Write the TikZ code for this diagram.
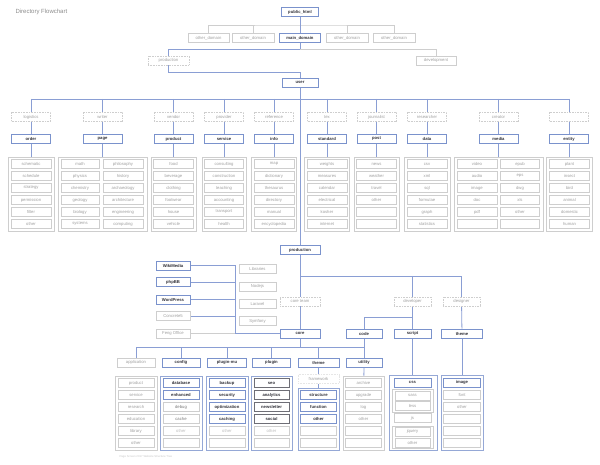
\documentclass[tikz,border=0pt]{standalone}
\usepackage{fontspec}
\setsansfont{Liberation Sans}
\usetikzlibrary{calc}
\pgfdeclarelayer{bg}
\pgfsetlayers{bg,main}
\definecolor{bl}{RGB}{122,146,204}
\definecolor{bline}{RGB}{138,158,212}
\definecolor{gb}{RGB}{206,206,206}
\definecolor{gt}{RGB}{160,160,160}
\definecolor{dk}{RGB}{50,50,58}
\definecolor{dkb}{RGB}{110,110,118}
\definecolor{ttl}{RGB}{140,140,140}
% column of equally spaced item boxes: prefix, x, base y, style, labels
\newcommand{\itemcol}[5]{%
  \foreach \t [count=\i] in {#5} \node[#4] (#1-\i) at (#2,{#3+12*\i}) {\t};}
\begin{document}
\begin{tikzpicture}[x=1pt,y=-1pt,
  lbl/.style={font=\sffamily\fontsize{4.2}{4.6}\selectfont},
  bx/.style={lbl,rectangle,inner sep=0,fill=white,minimum height=9,minimum width=#1},
  mainbx/.style={bx=#1,draw=bl,line width=0.8pt,text=dk},
  grybx/.style={bx=#1,draw=gb,line width=0.6pt,text=gt},
  darkbx/.style={bx=#1,draw=dkb,line width=0.7pt,text=dk},
  dashbx/.style={bx=#1,draw=gb,dash pattern=on 0.8pt off 0.8pt,line width=0.6pt,text=gt},
  grp/.style={rectangle,inner sep=0,fill=white,draw=gb,line width=0.8pt,minimum width=#1},
  bgrp/.style={grp=#1,draw=bl!80},
  link/.style={draw=bline,line width=0.8pt},
  glink/.style={draw=gb,line width=0.7pt}]
\useasboundingbox (0,0) rectangle (600,465);
\begin{pgfonlayer}{bg}
\fill[white] (0,0) rectangle (600,465);
\end{pgfonlayer}

\node[anchor=west,text=ttl,font=\sffamily\fontsize{6}{7}\selectfont] (title) at (12,12) {Directory Flowchart};

% ---------- domains ----------
\node[mainbx=37] (pub) at (300,12) {\bfseries public\_html};
\node[grybx=41] (od1) at (208.5,38) {other\_domain};
\node[grybx=42] (od2) at (253,38) {other\_domain};
\node[mainbx=41] (maind) at (300,38) {\bfseries main\_domain};
\node[grybx=42] (od3) at (347,38) {other\_domain};
\node[grybx=42] (od4) at (394,38) {other\_domain};
\node[dashbx=41] (prodr) at (168.5,60.5) {production};
\node[grybx=40] (dev) at (436,60.5) {development};
\node[mainbx=36] (user) at (300,82.5) {\bfseries user};

\coordinate (j1) at (300,25);
\coordinate (j2) at (300,49.5);
\coordinate (j3) at (300,72);
\coordinate (j4) at (300,99);

% ---------- user columns ----------
\foreach \n/\x/\r/\m in {c1/31/logistics/order, c2/102.5/writer/page, c3/173.5/vendor/product,
  c4/224/provider/service, c5/274/reference/info, c6/327/tex/standard, c7/376.5/journalist/post,
  c8/427/researcher/data, c9/498.5/creator/media, c10/569/{}/entity}{
  \node[dashbx=39] (\n-r) at (\x,117) {\r};
  \node[mainbx=39] (\n-m) at (\x,139) {\bfseries\m};
}
\node[grp=46,minimum height=74] (c1-g) at (31,194) {};
\node[grp=89,minimum height=74] (c2-g) at (102.5,194) {};
\node[grp=45,minimum height=74] (c3-g) at (173.5,194) {};
\node[grp=44,minimum height=74] (c4-g) at (224,194) {};
\node[grp=45,minimum height=74] (c5-g) at (274,194) {};
\node[grp=45,minimum height=74] (c6-g) at (327,194) {};
\node[grp=45,minimum height=74] (c7-g) at (376.5,194) {};
\node[grp=46,minimum height=74] (c8-g) at (427,194) {};
\node[grp=89,minimum height=74] (c9-g) at (498.5,194) {};
\node[grp=46,minimum height=74] (c10-g) at (569.5,194) {};

\itemcol{ord}{31}{152}{grybx=40}{schematic,schedule,strategy,permission,filter,other}
\itemcol{pgl}{80}{152}{grybx=38}{math,physics,chemistry,geology,biology,systems}
\itemcol{pgr}{123}{152}{grybx=40}{philosophy,history,archaeology,architecture,engineering,computing}
\itemcol{prd}{173.5}{152}{grybx=40}{food,beverage,clothing,footwear,house,vehicle}
\itemcol{srv}{224}{152}{grybx=39}{consulting,construction,teaching,accounting,transport,health}
\itemcol{inf}{274}{152}{grybx=40}{map,dictionary,thesaurus,directory,manual,encyclopedia}
\itemcol{std}{327}{152}{grybx=40}{weights,measures,calendar,electrical,kosher,internet}
\itemcol{pst}{376.5}{152}{grybx=40}{news,weather,travel,other,{},{}}
\itemcol{dat}{427}{152}{grybx=40}{csv,xml,sql,formulae,graph,statistics}
\itemcol{mdl}{477}{152}{grybx=40}{video,audio,image,doc,pdf,{}}
\itemcol{mdr}{520}{152}{grybx=39}{epub,eps,dwg,xls,other,{}}
\itemcol{ent}{569.5}{152}{grybx=40}{plant,insect,bird,animal,domestic,human}

% ---------- production ----------
\node[mainbx=40] (prod) at (300,250) {\bfseries production};
\node[dashbx=40] (coret) at (300,301.5) {core team};
\node[mainbx=40] (core) at (300,333.5) {\bfseries core};
\node[dashbx=37] (devr) at (412.5,301.5) {developer};
\node[dashbx=37] (desr) at (461.5,301.5) {designer};
\node[mainbx=36] (code) at (364,333.5) {\bfseries code};
\node[mainbx=37] (script) at (412.5,333.5) {\bfseries script};
\node[mainbx=41] (theme) at (462,333.5) {\bfseries theme};
\coordinate (k1) at (300,276);
\coordinate (k2) at (412.5,317);

\node[mainbx=34] (wiki) at (173,265.5) {\bfseries WikiMedia};
\node[mainbx=34] (phpbb) at (173,282) {\bfseries phpBB};
\node[mainbx=34] (wp) at (173,299.5) {\bfseries WordPress};
\node[grybx=34] (conc) at (173,316) {Concrete5};
\node[grybx=34] (feng) at (173,333.5) {Feng Office};
\coordinate (k3) at (235,333.5);

\node[grybx=37] (libs) at (257.5,269) {Libraries};
\node[grybx=37] (node) at (257.5,286.5) {Nodejs};
\node[grybx=37] (lara) at (257.5,304) {Laravel};
\node[grybx=37] (symf) at (257.5,321) {Symfony};

% ---------- core children ----------
\coordinate (k4) at (300,347.5);
\node[grybx=38] (app) at (136,362.5) {application};
\node[mainbx=38] (conf) at (181,362.5) {\bfseries config};
\node[mainbx=39] (pmu) at (227,362.5) {\bfseries plugin-mu};
\node[mainbx=38] (plug) at (271.5,362.5) {\bfseries plugin};
\node[mainbx=41] (th2) at (318.5,362.5) {\bfseries theme};
\node[mainbx=36] (util) at (364,362.5) {\bfseries utility};

\node[grp=42,minimum height=74] (app-g) at (136,413) {};
\node[bgrp=42,minimum height=74] (conf-g) at (181,413) {};
\node[bgrp=42,minimum height=74] (pmu-g) at (227,413) {};
\node[bgrp=41,minimum height=74] (plug-g) at (271.5,413) {};
\node[bgrp=41,minimum height=62] (th2-g) at (318.5,419) {};
\node[grp=41,minimum height=74] (util-g) at (363.5,413) {};
\node[bgrp=48,minimum height=75] (scr-g) at (413,412.5) {};
\node[bgrp=42,minimum height=75] (img-g) at (462,412.5) {};

\itemcol{ap}{136}{371}{grybx=36}{product,service,research,education,library,other}
\node[mainbx=36] (cf-1) at (181,383) {\bfseries database};
\node[mainbx=36] (cf-2) at (181,395) {\bfseries enhanced};
\node[grybx=36,text=gt!140] (cf-3) at (181,407) {debug};
\node[grybx=36,text=gt!140] (cf-4) at (181,419) {cache};
\node[grybx=36,text=gt!70] (cf-5) at (181,431) {other};
\node[grybx=36] (cf-6) at (181,443) {};
\itemcol{pm}{227}{371}{mainbx=36}{\bfseries backup,\bfseries security,\bfseries optimization,\bfseries caching}
\node[grybx=36,text=gt!70] (pm-5) at (227,431) {other};
\node[grybx=36] (pm-6) at (227,443) {};
\itemcol{pl}{271.5}{371}{darkbx=35}{\bfseries seo,\bfseries analytics,\bfseries newsletter,\bfseries social}
\node[grybx=35,text=gt!70] (pl-5) at (271.5,431) {other};
\node[grybx=35] (pl-6) at (271.5,443) {};
\node[dashbx=41,draw=gb!50] (fw) at (318.5,379) {framework};
\itemcol{tm}{318.5}{383}{mainbx=36}{\bfseries structure,\bfseries function,\bfseries other}
\node[grybx=36] (tm-4) at (318.5,431) {};
\node[grybx=36] (tm-5) at (318.5,443) {};
\itemcol{ut}{363.5}{371}{grybx=36}{archive,upgrade,log,other,{},{}}

\node[mainbx=37] (css) at (412.5,382.5) {\bfseries css};
\node[grp=41,minimum height=23] (sass-g) at (412.5,400.5) {};
\node[grybx=35] (sass) at (412.5,395.5) {sass};
\node[grybx=35] (less) at (412.5,406) {less};
\node[grybx=37] (js) at (412.5,418) {js};
\node[grp=41,minimum height=22] (jq-g) at (412.5,437) {};
\node[grybx=35] (jq) at (412.5,431.5) {jquery};
\node[grybx=35] (jso) at (412.5,442.5) {other};

\node[mainbx=37] (img) at (462,382.5) {\bfseries image};
\itemcol{im}{462}{382.5}{grybx=37}{font,other,{},{},{}}

\node[anchor=west,text=gt!60,font=\sffamily\fontsize{2.8}{3}\selectfont] (foot) at (116,457)
  {Page Screen 2017 Website Structure Tree};

% ---------- connectors ----------
\begin{pgfonlayer}{bg}
\draw[glink] (od1.north) |- (j1) -| (od4.north);
\draw[glink] (od2.north) -- (od2.north|-j1);
\draw[glink] (od3.north) -- (od3.north|-j1);
\draw[link] (pub) -- (maind);
\draw[link] (maind) -- (j2) -| (prodr.north);
\draw[glink] (j2) -| (dev.north);
\draw[link] (prodr.south) |- (j3) -- (user.north);
\draw[link] (user) -- (prod);
\draw[link] (c1-r.north|-j4) -- (c10-r.north|-j4);
\foreach \n in {c1,c2,c3,c4,c5,c6,c7,c8,c9,c10}{
  \draw[link] (\n-r.north|-j4) -- (\n-m.north);
  \draw[link] (\n-m.south) -- (\n-m.south|-\n-g.north);
}
\draw[link] (prod) -- (core);
\draw[link] (k1) -| (desr.north);
\draw[link] (devr.north|-k1) -- (script.north);
\draw[link] (k2) -| (code.north);
\draw[link] (desr) -- (theme);
\draw[link] (wiki.east) -| (k3) -- (core.west);
\draw[link] (phpbb.east) -- (phpbb.east-|k3);
\draw[link] (wp.east) -- (wp.east-|k3);
\draw[link] (conc.east) -- (conc.east-|k3);
\draw[glink] (feng.east) -- (k3);
\draw[link] (core) -- (k4);
\draw[link] (app.north|-k4) -- (util.north|-k4);
\foreach \n in {app,conf,pmu,plug,th2}{\draw[link] (\n.north|-k4) -- (\n.north);}
\draw[link] (code) -- (util);
\draw[link] (th2) -- (th2-g);
\draw[link] (util) -- (util-g);
\draw[link] (script.south) -- (script.south|-scr-g.north);
\draw[link] (theme.south) -- (theme.south|-img-g.north);
\draw[glink] (js) -- (jq-g);
\end{pgfonlayer}
\end{tikzpicture}
\end{document}
